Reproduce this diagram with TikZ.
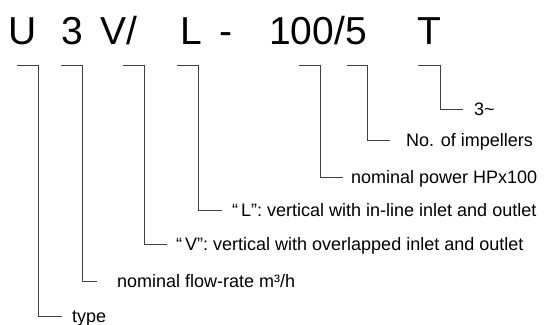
\documentclass[tikz,border=0pt]{standalone}
\usepackage{fontspec}
\setmainfont{Liberation Sans}
\usetikzlibrary{positioning}
\tikzset{
	code/.style={font=\fontsize{39}{39}\selectfont, inner sep=0, anchor=base},
	lab/.style={font=\fontsize{18}{18}\selectfont, inner sep=0, anchor=west,
		text height=12.6pt, text depth=0pt},
	bracket/.style={draw=black!75, line width=0.9pt, shorten >=#1},
	bracket/.default=10pt
}
\begin{document}
\begin{tikzpicture}[x=1pt, y=-1pt]
			\useasboundingbox (0,0) rectangle (548,324);
			% type code
			\node[code] (c_U) at (22.5,44) {U};
			\node[code] (c_3) at (72.5,44) {3};
			\node[code] (c_V) at (118.5,44) {V/};
			\node[code] (c_L) at (191,44) {L};
			\node[code] (c_dash) at (226,44) {-};
			\node[code] (c_pow) at (318,44) {100/5};
			\node[code] (c_T) at (429,44) {T};
			\coordinate (k_U) at (17,65);
			\coordinate (k_3) at (61,65);
			\coordinate (k_V) at (123,65);
			\coordinate (k_L) at (177,65);
			\coordinate (k_pow) at (299,65);
			\coordinate (k_imp) at (347,65);
			\coordinate (k_T) at (418,65);
			\node[lab] (l_type) at (72,316) {type};
			\node[lab] (l_flow) at (117,281) {nominal flow-rate m³/h};
			\node[lab] (l_V) at (176,244) {“\,V”: vertical with overlapped inlet and outlet};
			\node[lab] (l_L) at (232,210) {“\,L”: vertical with in-line inlet and outlet};
			\node[lab] (l_pow) at (351,177) {nominal power HPx100};
			\node[lab] (l_imp) at (406,140) {No. of impellers};
			\node[lab] (l_ph) at (474,109) {3\textasciitilde};
			\draw[bracket] (k_U) -- ++(21,0) |- (l_type.west);
			\draw[bracket=20pt] (k_3) -- ++(21,0) |- (l_flow.west);
			\draw[bracket=9pt] (k_V) -- ++(21,0) |- (l_V.west);
			\draw[bracket] (k_L) -- ++(21,0) |- (l_L.west);
			\draw[bracket=8pt] (k_pow) -- ++(21,0) |- (l_pow.west);
			\draw[bracket=16pt] (k_imp) -- ++(20,0) |- (l_imp.west);
			\draw[bracket=11pt] (k_T) -- ++(22,0) |- (l_ph.west);
		\end{tikzpicture}
\end{document}
